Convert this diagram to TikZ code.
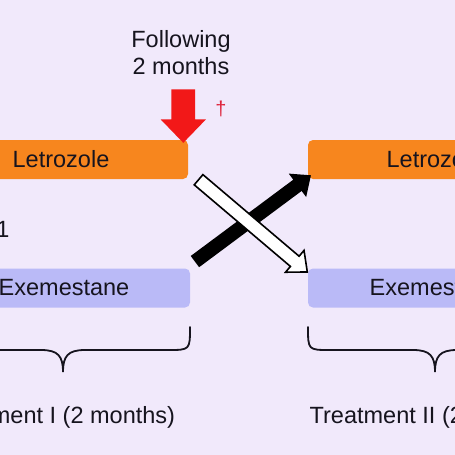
\documentclass[tikz,border=0pt]{standalone}
\usepackage{fontspec}
\setmainfont{Liberation Sans}
\usetikzlibrary{shapes.arrows,positioning,calc}
\definecolor{bgpurple}{RGB}{241,233,251}
\definecolor{letorange}{RGB}{247,134,30}
\definecolor{exeblue}{RGB}{186,186,247}
\definecolor{arrowred}{RGB}{242,24,24}
\definecolor{daggerred}{RGB}{222,36,60}
\definecolor{textdark}{RGB}{22,20,30}

\begin{document}
\begin{tikzpicture}[x=1pt, y=-1pt,
        drug/.style={rectangle, rounded corners=5pt, minimum width=254pt, minimum height=39pt, inner sep=0pt, text=textdark, font=\fontsize{23.5}{27}\selectfont},
        letro/.style={drug, fill=letorange},
        exem/.style={drug, fill=exeblue},
        label/.style={inner sep=0pt, text=textdark, font=\fontsize{23.5}{27}\selectfont},
        blockarrow/.style={single arrow, midway, sloped, allow upside down, inner xsep=0pt, inner ysep=6.8pt, minimum width=29pt, single arrow head extend=7.6pt, single arrow tip angle=82},
        brace/.style={line width=1.8pt, line cap=round, textdark}]

        \useasboundingbox (0,0) rectangle (455,455);
        \clip (0,0) rectangle (455,455);
        \fill[bgpurple] (0,0) rectangle (455,455);

        % drug boxes
        \node[letro] (let1) at (61,159.5) {Letrozole};
        \node[exem, minimum width=252pt] (exe1) at (64,288) {Exemestane};
        \node[letro] (let2) at (435,159.5) {Letrozole};
        \node[exem] (exe2) at (435,288) {Exemestane};

        \node[label] (ratio) at (3,229) {1};

        % switch after two months
        \node[label, align=center] (follow) at (181,53) {Following\\2 months};
        \coordinate (redtop) at (183.3,83.3);
        \coordinate (redtip) at (183.3,136.7);
        \path (redtop) -- (redtip) node[blockarrow, fill=arrowred, inner ysep=11.65pt, minimum height=53.4pt, minimum width=45pt, single arrow head extend=10.8pt, single arrow tip angle=88] (redarrow) {};
        \node[inner sep=0pt, text=daggerred, font=\fontsize{20}{24}\selectfont] (dagger) at (221,109) {\textdagger};

        % crossover arrows
        \coordinate (blktail) at (191.7,264);
        \coordinate (blktip) at (307.7,177.7);
        \coordinate (whttail) at (195,176.7);
        \coordinate (whttip) at (305,270);
        \path (blktail) -- (blktip) node[blockarrow, fill=black, minimum height=144.6pt] (blkarrow) {};
        \path (whttail) -- (whttip) node[blockarrow, fill=white, draw=black, line width=1.6pt, inner ysep=5.9pt, minimum width=27pt, minimum height=142.6pt] (whtarrow) {};

        % braces
        \draw[brace] (190,327) .. controls (190,350) .. (168,350) -- (85,350)
            .. controls (68,350) and (63,356) .. (63,372)
            .. controls (63,356) and (58,350) .. (41,350) -- (-42,350)
            .. controls (-64,350) .. (-64,327);
        \draw[brace] (308,327) .. controls (308,350) .. (330,350) -- (413,350)
            .. controls (430,350) and (435,356) .. (435,372)
            .. controls (435,356) and (440,350) .. (457,350) -- (540,350)
            .. controls (562,350) .. (562,327);

        \node[label] (treat1) at (56,417) {Treatment I (2 months)};
        \node[label] (treat2) at (432,417) {Treatment II (2 months)};
    \end{tikzpicture}
\end{document}
